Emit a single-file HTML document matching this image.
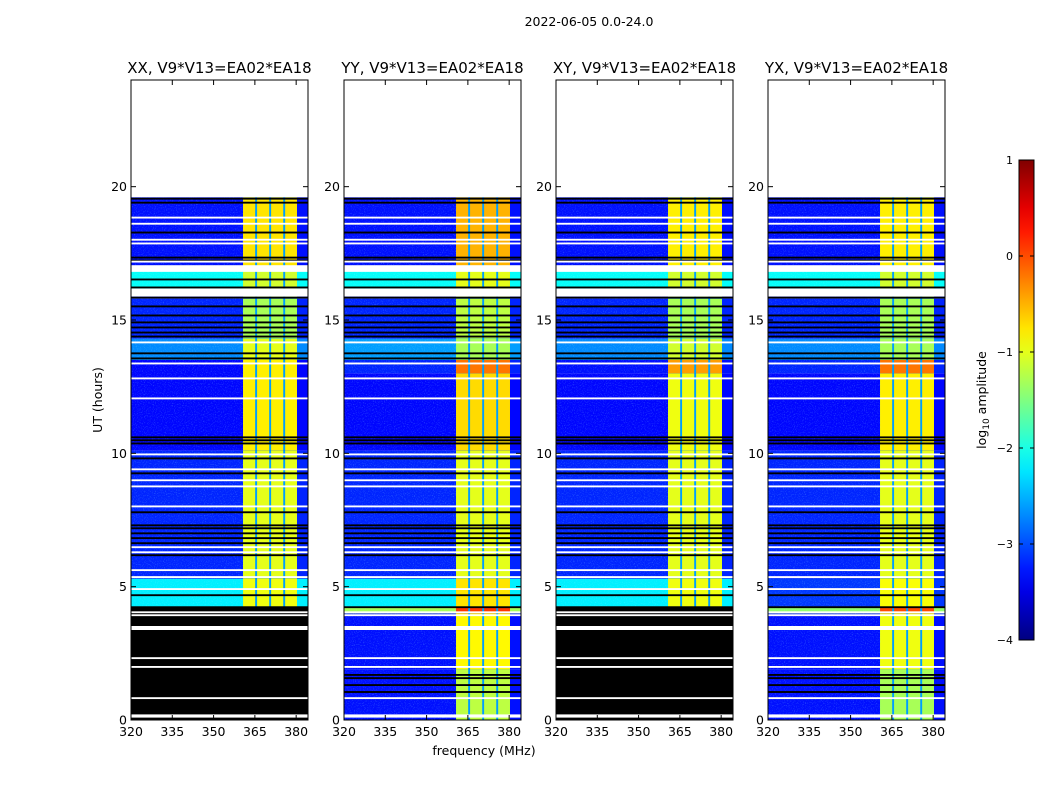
<!DOCTYPE html>
<html><head><meta charset="utf-8">
<style>
body{margin:0;background:#fff;width:1050px;height:800px;overflow:hidden;font-family:"DejaVu Sans","Liberation Sans",sans-serif;}
svg{position:absolute;left:0;top:0}
</style></head>
<body>
<svg id="fig" width="1050" height="800" xmlns="http://www.w3.org/2000/svg"></svg>
<script>
// ---- data ----
const panelTitles = ["XX, V9*V13=EA02*EA18","YY, V9*V13=EA02*EA18","XY, V9*V13=EA02*EA18","YX, V9*V13=EA02*EA18"];
const yTicks = [0,5,10,15,20];
const xTicks = [320,335,350,365,380];
const cbTicks = [1,0,-1,-2,-3,-4];
const rfiBands = [[360.7,365.1],[365.8,370.2],[370.9,375.3],[376.0,380.3]];
const gapLevel = -2.6;
// segments: [t0, t1, background log10 amp, RFI band log10 amp]
const segXX = [[0,4.25,-3.3,-1.2],[4.25,5.3,-2.2,-0.95],[5.3,10.1,-3.2,-1.0],[10.1,13.5,-3.35,-0.8],[13.5,14.3,-2.7,-1.0],[14.3,15.8,-3.2,-1.3],[15.8,16.1,-3.2,-1.3],[16.1,16.9,-2.1,-1.1],[16.9,19.6,-3.3,-0.75]];
const segYY = [[0,1.9,-3.3,-1.2],[1.9,4.0,-3.3,-0.85],[4.0,4.2,-1.3,0.1],[4.2,5.3,-2.2,-0.75],[5.3,10.1,-3.2,-1.0],[10.1,13.0,-3.35,-0.7],[13.0,13.5,-3.2,-0.2],[13.5,14.3,-2.6,-1.3],[14.3,15.8,-3.2,-1.2],[15.8,16.1,-3.2,-1.2],[16.1,16.9,-2.1,-1.0],[16.9,19.6,-3.3,-0.5]];
const segXY = [[0,4.25,-3.3,-1.2],[4.25,5.3,-2.2,-0.95],[5.3,10.1,-3.2,-1.0],[10.1,13.0,-3.35,-0.95],[13.0,13.5,-3.3,-0.4],[13.5,14.3,-2.7,-1.1],[14.3,15.8,-3.2,-1.3],[15.8,16.1,-3.2,-1.3],[16.1,16.9,-2.1,-1.1],[16.9,19.6,-3.3,-0.8]];
const segYX = [[0,1.9,-3.3,-1.3],[1.9,4.0,-3.3,-0.95],[4.0,4.2,-1.4,0.0],[4.2,5.3,-3.1,-0.9],[5.3,10.1,-3.2,-1.0],[10.1,13.0,-3.35,-0.8],[13.0,13.5,-3.2,-0.2],[13.5,14.3,-2.7,-1.3],[14.3,15.8,-3.2,-1.3],[15.8,16.1,-3.2,-1.3],[16.1,16.9,-2.1,-1.1],[16.9,19.6,-3.3,-0.8]];
const panelSegments = [segXX, segYY, segXY, segYX];
// fully flagged (black) time blocks per panel [t0,t1]
const blackBlocks = [[[0,4.25]],[],[[0,4.25]],[]];
// flagged rows: [hour, thickness in hours]
const whiteLines = [[18.84,0.07],[18.61,0.07],[18.01,0.07],[17.87,0.07],[17.19,0.07],[16.93,0.25],[16.03,0.3],[14.16,0.07],[13.37,0.07],[12.81,0.07],[12.06,0.07],[9.96,0.07],[9.40,0.07],[8.99,0.07],[8.76,0.07],[8.01,0.07],[6.48,0.07],[6.29,0.07],[5.62,0.07],[5.36,0.07],[4.91,0.07],[4.04,0.07],[3.93,0.07],[3.45,0.15],[2.32,0.07],[1.99,0.07],[0.82,0.07],[0.15,0.12]];
const blackLines = [[19.55,0.07],[19.40,0.07],[18.28,0.07],[17.34,0.07],[17.23,0.07],[16.52,0.07],[16.22,0.07],[15.84,0.07],[15.51,0.07],[15.17,0.07],[14.91,0.07],[14.72,0.07],[14.53,0.07],[14.38,0.07],[13.75,0.07],[13.56,0.07],[10.60,0.07],[10.49,0.07],[10.37,0.07],[9.81,0.07],[9.25,0.07],[7.79,0.07],[7.30,0.07],[7.19,0.07],[7.00,0.07],[6.82,0.07],[6.63,0.07],[6.18,0.07],[4.68,0.07],[4.23,0.07],[1.69,0.07],[1.57,0.07],[1.31,0.07],[1.05,0.07]];

// ---- layout ----
const panelX = [131,344,556,768], PW = 177, PT = 80, PH = 640;
const F0 = 320, F1 = 384.3, H0 = 0, H1 = 24;
const NS = "http://www.w3.org/2000/svg";
const svg = document.getElementById('fig');
function el(tag, attrs, parent){const e=document.createElementNS(NS,tag);for(const k in attrs)e.setAttribute(k,attrs[k]);(parent||svg).appendChild(e);return e;}
function jet(v){let t=(v+4)/5;t=Math.max(0,Math.min(1,t));
 const r=Math.max(0,Math.min(1,1.5-Math.abs(4*t-3))),g=Math.max(0,Math.min(1,1.5-Math.abs(4*t-2))),b=Math.max(0,Math.min(1,1.5-Math.abs(4*t-1)));
 return `rgb(${Math.round(r*255)},${Math.round(g*255)},${Math.round(b*255)})`;}

const defs = el('defs',{});
const flt = el('filter',{id:'spk',x:0,y:0,width:1,height:1},defs);
el('feTurbulence',{type:'fractalNoise',baseFrequency:'0.9',numOctaves:'1',seed:'3'},flt);
el('feColorMatrix',{type:'matrix',values:'0 0 0 0 0.3  0 0 0 0 0.9  0 0 0 0 1  0 0 0 -2.5 1.2'},flt);

panelX.forEach((px,pi)=>{
  const xs = f => px + (f-F0)/(F1-F0)*PW;
  const ys = h => PT + PH - (h-H0)/(H1-H0)*PH;
  const g = el('g',{});  
  const clipId='clip'+pi; const cp=el('clipPath',{id:clipId},defs); el('rect',{x:px,y:PT,width:PW,height:PH},cp);
  const hm = el('g',{'clip-path':`url(#${clipId})`},g);
  panelSegments[pi].forEach(s=>{
    const [t0,t1,bg,bd]=s;
    const y=ys(t1), h=ys(t0)-ys(t1);
    const r=el('rect',{x:px,y:y,width:PW,height:h,fill:jet(bg)},hm);
     
    el('rect',{x:xs(rfiBands[0][0]),y:y,width:xs(rfiBands[rfiBands.length-1][1])-xs(rfiBands[0][0]),height:h,fill:jet(gapLevel)},hm);
    rfiBands.forEach(b=>{
      const c=el('rect',{x:xs(b[0]),y:y,width:xs(b[1])-xs(b[0]),height:h,fill:jet(bd)},hm);
       
    });
  });
  const tTop = Math.max(...panelSegments[pi].map(s=>s[1]));
  el('rect',{x:px,y:ys(tTop),width:xs(rfiBands[0][0])-px,height:ys(0)-ys(tTop),fill:'#000',opacity:0.35,filter:'url(#spk)'},hm);
  blackBlocks[pi].forEach(b=>{const r=el('rect',{x:px,y:ys(b[1]),width:PW,height:ys(b[0])-ys(b[1]),fill:'#000'},hm);
     });
  blackLines.forEach(l=>{el('rect',{x:px,y:ys(l[0]+l[1]/2),width:PW,height:Math.max(1,ys(0)-ys(l[1])),fill:'#000'},hm);});
  whiteLines.forEach(l=>{el('rect',{x:px,y:ys(l[0]+l[1]/2),width:PW,height:Math.max(1.2,ys(0)-ys(l[1])),fill:'#fff'},hm);});
  const fr=el('rect',{x:px,y:PT,width:PW,height:PH,fill:'none',stroke:'#000','stroke-width':1},g);
   
  yTicks.forEach(t=>{
    const y=ys(t);
    el('line',{x1:px,x2:px+5,y1:y,y2:y,stroke:'#000'},g);
    el('line',{x1:px+PW-5,x2:px+PW,y1:y,y2:y,stroke:'#000'},g);
    const tx=el('text',{x:px-4,y:y+4.5,'text-anchor':'end','font-size':12.5},g); tx.textContent=t;
     
  });
  xTicks.forEach(t=>{
    const x=xs(t);
    el('line',{x1:x,x2:x,y1:PT+PH,y2:PT+PH-5,stroke:'#000'},g);
    el('line',{x1:x,x2:x,y1:PT,y2:PT+5,stroke:'#000'},g);
    const tx=el('text',{x:x,y:PT+PH+16,'text-anchor':'middle','font-size':12.5},g); tx.textContent=t;
     
  });
  const ti=el('text',{x:px+PW/2,y:PT-7,'text-anchor':'middle','font-size':15},g); ti.textContent=panelTitles[pi];
   
});

const sup=el('text',{x:589,y:26,'text-anchor':'middle','font-size':12.5}); sup.textContent='2022-06-05 0.0-24.0';
 
const yl=el('text',{x:0,y:0,'text-anchor':'middle','font-size':12.5,transform:'translate(102,400) rotate(-90)'}); yl.textContent='UT (hours)';
 
const xl=el('text',{x:484,y:755,'text-anchor':'middle','font-size':12.5}); xl.textContent='frequency (MHz)';
 

const CBX=1019, CBW=15, CBT=160, CBH=480;
const lg=el('linearGradient',{id:'jetg',x1:0,y1:1,x2:0,y2:0},defs);
for(let i=0;i<=20;i++){el('stop',{offset:i/20,'stop-color':jet(-4+5*i/20)},lg);}
const cb=el('rect',{x:CBX,y:CBT,width:CBW,height:CBH,fill:'url(#jetg)',stroke:'#000'});
 
cbTicks.forEach(t=>{
  const y=CBT+(1-t)/5*CBH;
  el('line',{x1:CBX,x2:CBX+4,y1:y,y2:y,stroke:'#000'});
  el('line',{x1:CBX+CBW-4,x2:CBX+CBW,y1:y,y2:y,stroke:'#000'});
  const tx=el('text',{x:CBX-6,y:y+4,'text-anchor':'end','font-size':11}); tx.textContent=(t<0?'\u2212'+(-t):t);
   
});
const cl=el('text',{x:0,y:0,'text-anchor':'middle','font-size':12.5,transform:'translate(986,400) rotate(-90)'});
cl.innerHTML='log<tspan font-size="9" dy="3">10</tspan><tspan dy="-3"> amplitude</tspan>';
 
</script>
</body></html>
